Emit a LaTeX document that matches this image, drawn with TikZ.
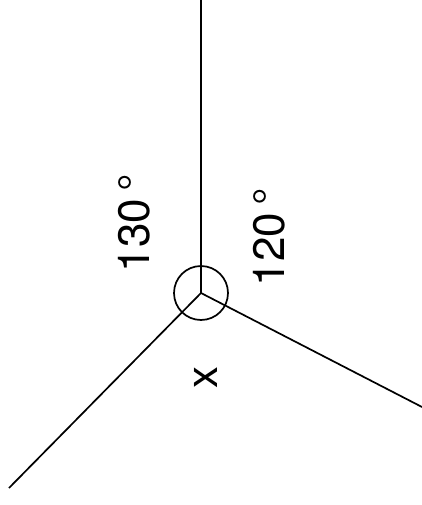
\documentclass[tikz,border=0pt]{standalone}
\usepackage{fontspec}
\setmainfont{TeX Gyre Heros}
\begin{document}
\begin{tikzpicture}[x=1pt,y=-1pt,line width=1.7pt,
  ang/.style={rotate=90,font=\fontsize{44}{44}\selectfont,inner sep=0pt}]
  \useasboundingbox (0,0) rectangle (422,505);
  \coordinate (o) at (201,293);
  \coordinate (up) at (201,0);
  \coordinate (lo) at (9,488);
  \coordinate (ro) at (422,407);
  \node[draw,circle,minimum size=54pt,inner sep=0pt] (hub) at (o) {};
  \draw (o) -- (up); \draw (o) -- (lo); \draw (o) -- (ro);
  \node[ang] (a1) at (134,223) {130\,°};
  \node[ang] (a2) at (269,237) {120\,°};
  \node[ang] (mark) at (206,377) {x};
\end{tikzpicture}
\end{document}
